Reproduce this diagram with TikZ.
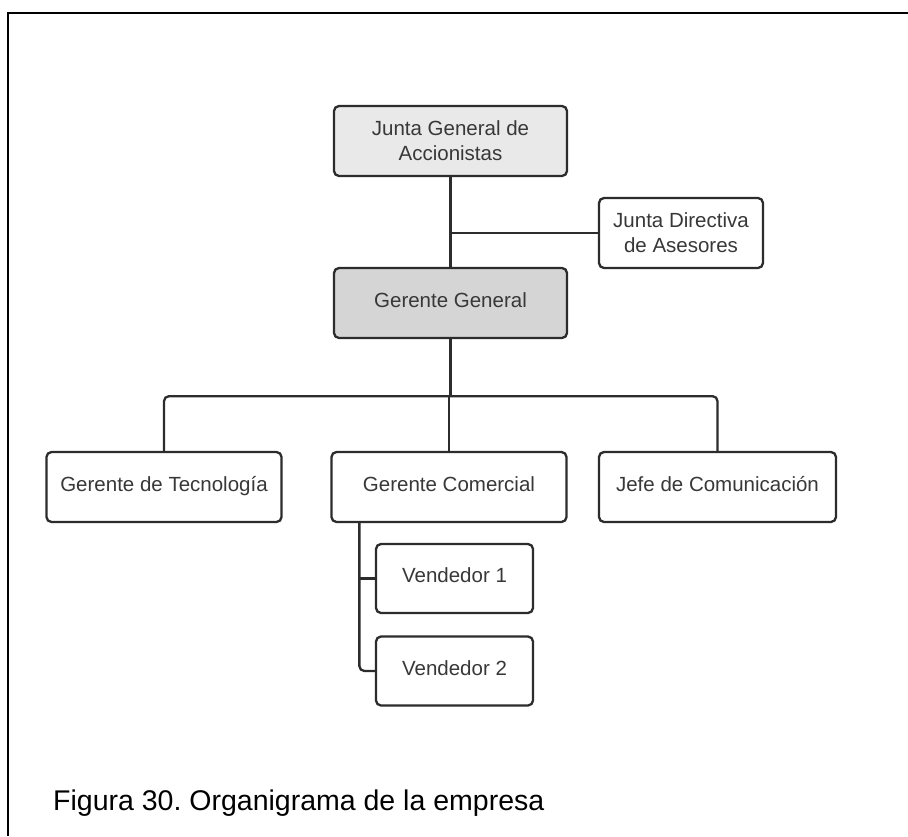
\documentclass[tikz,border=0pt]{standalone}
\usepackage{fontspec}
\setmainfont{Liberation Sans}
\usetikzlibrary{calc}
\frenchspacing
\definecolor{boxline}{HTML}{2C2C2C}
\definecolor{txt}{HTML}{383838}
\definecolor{fillA}{HTML}{E9E9E9}
\definecolor{fillB}{HTML}{D5D5D5}
\newcommand{\boxfont}{\fontsize{20.5}{25}\selectfont}
\begin{document}
\begin{tikzpicture}[x=1pt,y=-1pt,
  orgbox/.style={draw=boxline, line width=2.3pt, rounded corners=5pt, fill=white,
    text=txt, font=\boxfont, align=center, inner sep=0pt},
  oneline/.style={text height=14pt, text depth=6pt},
  wide/.style={minimum width=235pt, minimum height=70pt},
  small/.style={minimum width=164pt, minimum height=70pt},
  vend/.style={minimum width=157pt, minimum height=69pt},
  conn/.style={draw=boxline, line width=2.3pt, rounded corners=5pt}]
\useasboundingbox (0,0) rectangle (908,836);
\fill[white] (0,0) rectangle (908,836);

% page frame (top and left rule)
\draw[line width=2.2pt, black] (908,13) -- (7.8,13) -- (7.8,836);

% boxes
\node[orgbox, wide, fill=fillA, minimum width=233pt] (jga) at (450.5,141) {Junta General de\\Accionistas};
\node[orgbox, small] (jda) at (681,233) {Junta Directiva\\de Asesores};
\node[orgbox, oneline, wide, fill=fillB, minimum width=233pt] (gg) at (450.5,303) {Gerente General};
\node[orgbox, oneline, wide] (gt) at (164,487) {Gerente de Tecnología};
\node[orgbox, oneline, wide] (gc) at (449,487) {Gerente Comercial};
\node[orgbox, oneline, wide, minimum width=237pt] (jc) at (717.5,487) {Jefe de Comunicación};
\node[orgbox, oneline, vend] (v1) at (454.5,578.5) {Vendedor 1};
\node[orgbox, oneline, vend] (v2) at (454.5,671) {Vendedor 2};

% connectors
\draw[conn] (jga.south) -- (gg.north);
\draw[conn] (jda.west) -- (jda.west -| jga.south);
\coordinate (hub) at ($(gg.south)+(0,57)$);
\draw[conn] (gg.south) -- (hub);
\draw[conn] (gt.north) |- (hub) -| (jc.north);
\draw[conn] (hub -| gc.north) -- (gc.north);
\coordinate (vtop) at ($(gc.south west)+(29,0)$);
\draw[conn] (vtop) |- (v2.west);
\draw[conn] (v1.west) -- (v1.west -| vtop);

% caption
\node[anchor=base west, inner sep=0pt, text=black, font=\fontsize{28.5}{34}\selectfont] (cap) at (53,810)
  {Figura 30. Organigrama de la empresa};
\end{tikzpicture}
\end{document}
